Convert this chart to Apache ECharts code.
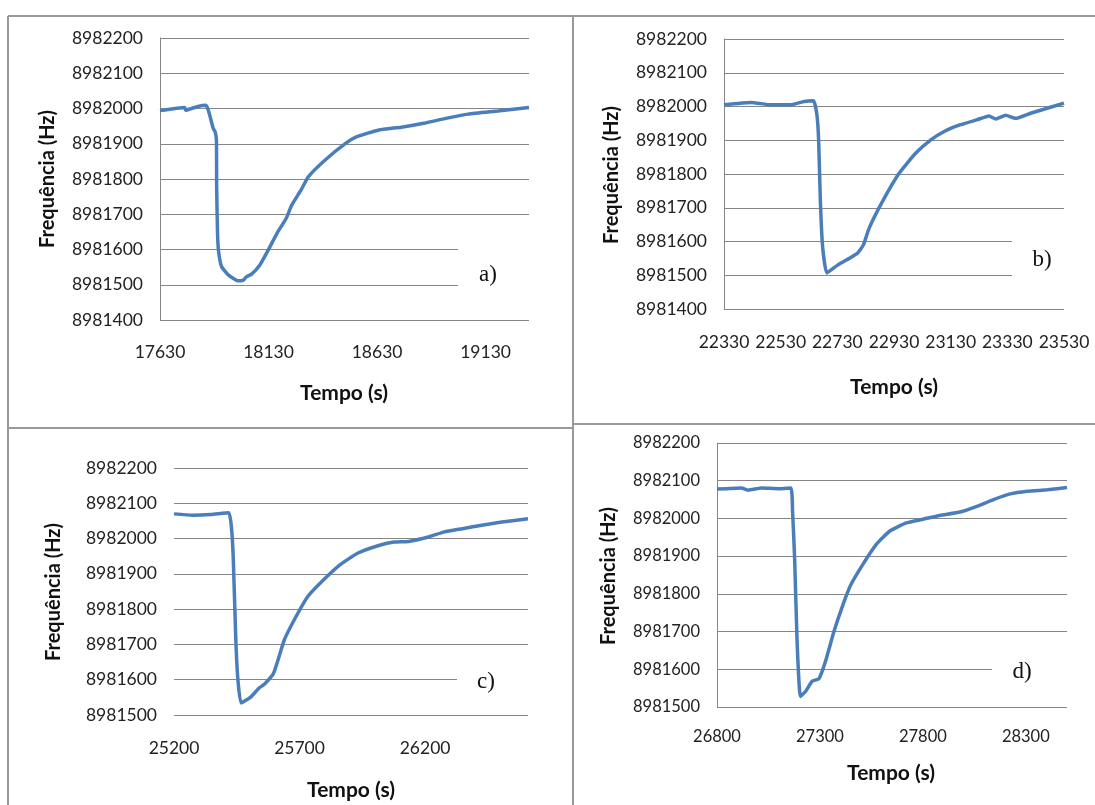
<!DOCTYPE html>
<html>
<head>
<meta charset="utf-8">
<script src="https://cdn.jsdelivr.net/npm/echarts@6/dist/echarts.min.js"></script>
<style>
  html, body { margin: 0; padding: 0; background: #fff; }
  #main { width: 1095px; height: 805px; }
</style>
</head>
<body>
<div id="main"></div>
<script>
// painel a)
var tempoA = [17630, 17744, 17748, 17800, 17842, 17875, 17884, 17890, 17891, 17895, 17900, 17914, 17944, 17990,
  18014, 18029, 18052, 18090, 18129, 18169, 18211, 18237, 18280, 18314, 18391, 18485, 18537, 18639, 18742,
  18845, 18947, 19050, 19187, 19330];
var freqA = [8981994, 8982003, 8981995, 8982005, 8982009, 8981944, 8981934, 8981910, 8981778, 8981647, 8981594,
  8981551, 8981528, 8981511, 8981513, 8981523, 8981530, 8981556, 8981599, 8981646, 8981688, 8981726, 8981769,
  8981807, 8981854, 8981901, 8981920, 8981939, 8981947, 8981958, 8981972, 8981984, 8981993, 8982003];

// painel b)
var tempoB = [22330, 22425, 22496, 22566, 22613, 22646, 22658, 22664, 22670, 22678, 22693, 22731, 22772, 22801,
  22822, 22842, 22889, 22948, 23007, 23060, 23107, 23165, 23224, 23265, 23289, 23324, 23359, 23412, 23459, 23530];
var freqB = [8982005, 8982012, 8982005, 8982005, 8982015, 8982017, 8981975, 8981901, 8981723, 8981585, 8981507,
  8981530, 8981550, 8981565, 8981590, 8981639, 8981718, 8981802, 8981862, 8981901, 8981926, 8981946, 8981961,
  8981972, 8981963, 8981974, 8981965, 8981980, 8981992, 8982010];

// painel c)
var tempoC = [25200, 25274, 25346, 25418, 25429, 25436, 25446, 25454, 25467, 25504, 25540, 25561, 25597, 25640,
  25690, 25733, 25790, 25862, 25933, 26019, 26077, 26134, 26206, 26277, 26349, 26420, 26506, 26610];
var freqC = [8982070, 8982066, 8982068, 8982073, 8982030, 8981945, 8981718, 8981605, 8981534, 8981550, 8981577,
  8981588, 8981619, 8981714, 8981784, 8981836, 8981879, 8981926, 8981959, 8981981, 8981990, 8981992, 8982003,
  8982019, 8982028, 8982037, 8982047, 8982056];

// painel d)
var tempoD = [26800, 26919, 26952, 27017, 27099, 27159, 27167, 27177, 27189, 27205, 27230, 27262, 27295, 27327,
  27368, 27409, 27450, 27507, 27572, 27638, 27719, 27801, 27882, 27981, 28062, 28143, 28225, 28307, 28404, 28500];
var freqD = [8982078, 8982081, 8982075, 8982081, 8982079, 8982081, 8982019, 8981895, 8981674, 8981528, 8981541,
  8981568, 8981575, 8981621, 8981700, 8981767, 8981824, 8981877, 8981930, 8981966, 8981988, 8981998, 8982008,
  8982017, 8982032, 8982050, 8982065, 8982072, 8982076, 8982082];

// eixos: [min, max, passo dos rotulos]
var eixoX = [[17630, 19330, 500], [22330, 23530, 200], [25200, 26610, 500], [26800, 28500, 500]];
var eixoY = [[8981400, 8982200], [8981400, 8982200], [8981500, 8982200], [8981500, 8982200]];
var letras = ['a)', 'b)', 'c)', 'd)'];

var azul = '#4A7EBB';
var cinza = '#868686';

var grades = [
  {left: 160, top: 38, width: 369, height: 282},
  {left: 724, top: 39, width: 340, height: 270},
  {left: 174, top: 468, width: 354, height: 247},
  {left: 717, top: 443, width: 350, height: 264}
];
var tamFonte = [17.5, 17.5, 17.5, 16.5];
var margemX = [23, 24, 24, 21];
var linhaEixoY = [true, true, false, true];

var dados = [[tempoA, freqA], [tempoB, freqB], [tempoC, freqC], [tempoD, freqD]];

var xAxis = [], yAxis = [], series = [];
for (var i = 0; i < 4; i++) {
  (function (i) {
    var ex = eixoX[i];
    xAxis.push({
      type: 'value', gridIndex: i, min: ex[0], max: ex[1], interval: 10,
      axisLine: {show: false}, axisTick: {show: false}, splitLine: {show: false},
      axisLabel: {
        margin: margemX[i], fontFamily: 'Lato', fontSize: tamFonte[i], color: '#222',
        formatter: function (v) {
          return Math.round(v - ex[0]) % ex[2] === 0 ? String(v) : '';
        }
      }
    });
    yAxis.push({
      type: 'value', gridIndex: i, min: eixoY[i][0], max: eixoY[i][1], interval: 100,
      axisLine: {show: linhaEixoY[i], lineStyle: {color: cinza, width: 1}},
      axisTick: {show: false},
      splitLine: {show: true, lineStyle: {color: cinza, width: 1}},
      axisLabel: {
        margin: 17, fontFamily: 'Lato', fontSize: tamFonte[i], color: '#222',
        formatter: function (v) { return String(v); }
      }
    });
    var pts = [];
    for (var k = 0; k < dados[i][0].length; k++) {
      pts.push([dados[i][0][k], dados[i][1][k]]);
    }
    series.push({
      type: 'line', xAxisIndex: i, yAxisIndex: i, data: pts,
      showSymbol: false, symbol: 'none', smooth: 0.15,
      lineStyle: {color: azul, width: 3.5}, z: 3
    });
  })(i);
}

// titulos dos eixos, letras e molduras
var titulosY = [[48, 179], [612, 175], [54, 592], [609, 576]];
var titulosX = [[344, 393], [894, 387], [351, 790], [891, 773]];
var posLetra = [[488, 275], [1042, 260], [486, 682], [1022, 672]];
// caixa branca atras da letra (corta as linhas de grade)
var caixas = [[458, 232, 74, 66], [1012, 226, 56, 64], [457, 662, 76, 38], [992, 652, 78, 38]];

var graficos = [];
for (var j = 0; j < 4; j++) {
  graficos.push({
    type: 'rect', z: 50,
    shape: {x: caixas[j][0], y: caixas[j][1], width: caixas[j][2], height: caixas[j][3]},
    style: {fill: '#fff'}
  });
  graficos.push({
    type: 'text', z: 51, x: posLetra[j][0], y: posLetra[j][1],
    style: {text: letras[j], font: '23px "Liberation Serif"', fill: '#111',
      textAlign: 'center', textVerticalAlign: 'middle'}
  });
  graficos.push({
    type: 'text', z: 51, x: titulosY[j][0], y: titulosY[j][1], rotation: Math.PI / 2,
    style: {text: 'Frequência (Hz)', font: 'bold 20px Lato', fill: '#111',
      textAlign: 'center', textVerticalAlign: 'middle'}
  });
  graficos.push({
    type: 'text', z: 51, x: titulosX[j][0], y: titulosX[j][1],
    style: {text: 'Tempo (s)', font: 'bold 21px Lato', fill: '#111',
      textAlign: 'center', textVerticalAlign: 'middle'}
  });
}
var moldura = {stroke: '#999', lineWidth: 2};
graficos.push({type: 'line', z: 60, shape: {x1: 8, y1: 16, x2: 1095, y2: 16}, style: moldura});
graficos.push({type: 'line', z: 60, shape: {x1: 8, y1: 16, x2: 8, y2: 805}, style: moldura});
graficos.push({type: 'line', z: 60, shape: {x1: 573, y1: 16, x2: 573, y2: 805}, style: moldura});
graficos.push({type: 'line', z: 60, shape: {x1: 8, y1: 428, x2: 573, y2: 428}, style: moldura});
graficos.push({type: 'line', z: 60, shape: {x1: 573, y1: 424, x2: 1095, y2: 424}, style: moldura});

var myChart = echarts.init(document.getElementById('main'));
var option = {
  backgroundColor: '#fff',
  animation: false,
  grid: grades,
  xAxis: xAxis,
  yAxis: yAxis,
  series: series,
  graphic: graficos
};
myChart.setOption(option);
</script>
</body>
</html>
